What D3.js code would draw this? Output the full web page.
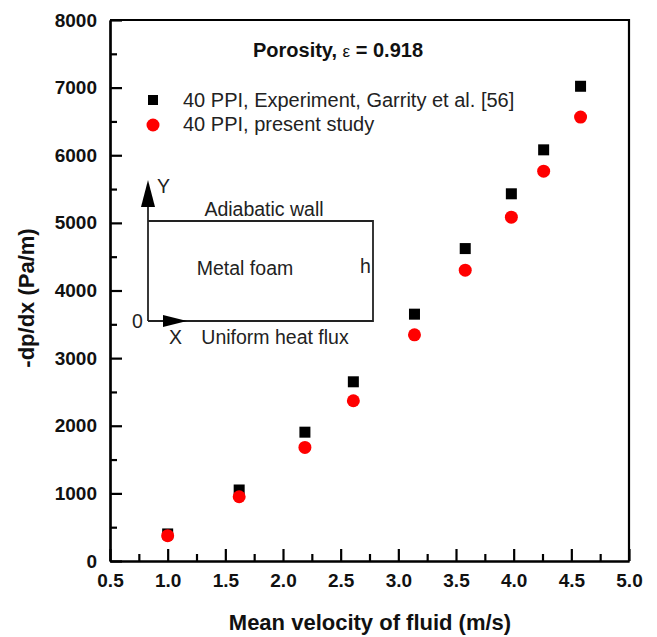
<!DOCTYPE html>
<html><head><meta charset="utf-8">
<script src="https://cdn.jsdelivr.net/npm/d3@7/dist/d3.min.js"></script>
<style>body{margin:0;background:#fff}svg{display:block}</style></head>
<body>
<svg id="chart" width="657" height="637"></svg>
<script>
// ---- data ----
const velocityExp = [1.0, 1.62, 2.19, 2.61, 3.14, 3.58, 3.98, 4.26, 4.58];
const dpdxExp     = [400, 1050, 1905, 2650, 3650, 4620, 5430, 6080, 7020];
const velocitySim = [1.0, 1.62, 2.19, 2.61, 3.14, 3.58, 3.98, 4.26, 4.58];
const dpdxSim     = [375, 950, 1680, 2370, 3345, 4300, 5085, 5765, 6565];
const xTickValues = [0.5, 1.0, 1.5, 2.0, 2.5, 3.0, 3.5, 4.0, 4.5, 5.0];
const xMinorTicks = [0.75, 1.25, 1.75, 2.25, 2.75, 3.25, 3.75, 4.25, 4.75];
const yTickValues = [0, 1000, 2000, 3000, 4000, 5000, 6000, 7000, 8000];
const yMinorTicks = [500, 1500, 2500, 3500, 4500, 5500, 6500, 7500];
const seriesNames = ["40 PPI, Experiment, Garrity et al. [56]", "40 PPI, present study"];

const FONT = "'Liberation Sans', Arial, Helvetica, sans-serif";
const svg = d3.select("#chart");
const L = 110, R = 629, T = 20, B = 561;
const x = d3.scaleLinear().domain([0.5, 5.0]).range([L, R]);
const y = d3.scaleLinear().domain([0, 8000]).range([B, T]);

// frame top & right
svg.append("path").attr("d", `M${L},${T}H${R}V${B}`).attr("fill","none").attr("stroke","#000").attr("stroke-width",2.2);

// x axis
const gx = svg.append("g").attr("transform", `translate(0,${B})`)
  .call(d3.axisBottom(x).tickValues(xTickValues).tickSizeInner(-12).tickSizeOuter(0).tickPadding(13).tickFormat(d3.format(".1f")));
const gxm = svg.append("g").attr("transform", `translate(0,${B})`)
  .call(d3.axisBottom(x).tickValues(xMinorTicks).tickSizeInner(-7).tickSizeOuter(0).tickFormat(""));
// y axis
const gy = svg.append("g").attr("transform", `translate(${L},0)`)
  .call(d3.axisLeft(y).tickValues(yTickValues).tickSizeInner(-12).tickSizeOuter(0).tickPadding(13).tickFormat(d3.format("d")));
const gym = svg.append("g").attr("transform", `translate(${L},0)`)
  .call(d3.axisLeft(y).tickValues(yMinorTicks).tickSizeInner(-7).tickSizeOuter(0).tickFormat(""));
[gx, gxm, gy, gym].forEach(g => {
  g.selectAll("path.domain").attr("stroke","#000").attr("stroke-width",2.2);
  g.selectAll("line").attr("stroke","#000").attr("stroke-width",2.2);
  g.selectAll("text").attr("font-family",FONT).attr("font-size",19).attr("font-weight","bold").attr("fill","#111");
});

// axis titles
svg.append("text").attr("x", 370).attr("y", 630).attr("text-anchor","middle")
  .attr("font-family",FONT).attr("font-size",22).attr("font-weight","bold").attr("fill","#111")
  .text("Mean velocity of fluid (m/s)");
svg.append("text").attr("transform", `translate(34,298) rotate(-90)`).attr("text-anchor","middle")
  .attr("font-family",FONT).attr("font-size",22).attr("font-weight","bold").attr("fill","#111")
  .text("-dp/dx (Pa/m)");

// title
const title = svg.append("text").attr("x", 338).attr("y", 57).attr("text-anchor","middle")
  .attr("font-family",FONT).attr("font-size",20).attr("font-weight","bold").attr("fill","#111");
title.append("tspan").text("Porosity, ");
title.append("tspan").attr("font-weight","normal").attr("font-size",17).text("ε");
title.append("tspan").text(" = 0.918");

// data
svg.append("g").selectAll("rect").data(velocityExp.map((v,i)=>[v,dpdxExp[i]])).join("rect")
  .attr("x", d=>x(d[0])-5.5).attr("y", d=>y(d[1])-5.5).attr("width",11).attr("height",11).attr("fill","#000");
svg.append("g").selectAll("circle").data(velocitySim.map((v,i)=>[v,dpdxSim[i]])).join("circle")
  .attr("cx", d=>x(d[0])).attr("cy", d=>y(d[1])).attr("r",6.5).attr("fill","#f00");

// legend
svg.append("rect").attr("x",148).attr("y",95).attr("width",10).attr("height",10).attr("fill","#000");
svg.append("circle").attr("cx",153).attr("cy",125).attr("r",6.5).attr("fill","#f00");
svg.append("text").attr("x",183).attr("y",107).attr("font-family",FONT).attr("font-size",20).attr("fill","#222").text(seriesNames[0]);
svg.append("text").attr("x",183).attr("y",131).attr("font-family",FONT).attr("font-size",20).attr("fill","#222").text(seriesNames[1]);

// inset schematic
const ins = svg.append("g").attr("stroke","#222").attr("fill","none").attr("stroke-width",1.8);
ins.append("path").attr("d","M148,321V200");
ins.append("path").attr("d","M148,221H373V321H148");
ins.append("path").attr("d","M148,321H170");
svg.append("path").attr("d","M148,180L141,207L155,207Z").attr("fill","#000");
svg.append("path").attr("d","M187,321L163,315L163,327Z").attr("fill","#000");
const it = (tx,ty,s,anchor="start") => svg.append("text").attr("x",tx).attr("y",ty).attr("text-anchor",anchor)
  .attr("font-family",FONT).attr("font-size",19.5).attr("fill","#222").text(s);
it(157,193,"Y");
it(264,216,"Adiabatic wall","middle");
it(245,275,"Metal foam","middle");
it(360,273,"h");
it(132,328,"0");
it(169,344,"X");
it(275,344,"Uniform heat flux","middle");
</script>
</body></html>
